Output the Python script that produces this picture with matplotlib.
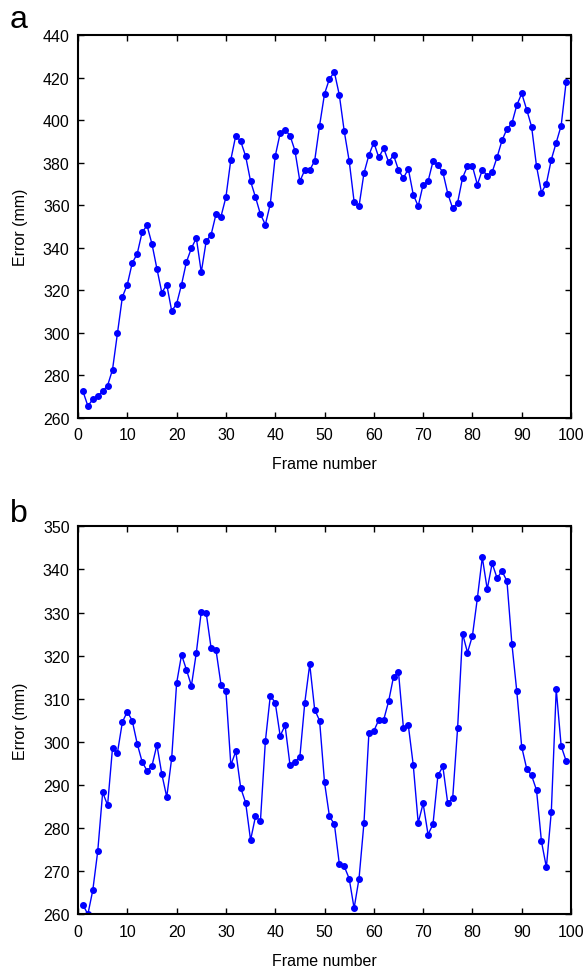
import numpy as np
import matplotlib.pyplot as plt

plt.rcParams['font.family'] = ['Liberation Sans', 'DejaVu Sans']

frames = np.arange(1, 100)

error_a = [272.4, 265.5, 268.6, 270.2, 272.4, 275.1, 282.6, 299.7, 316.8, 322.6,
           332.8, 337.0, 347.2, 350.4, 341.7, 330.1, 318.8, 322.6, 310.2, 313.5,
           322.6, 333.3, 339.7, 344.5, 328.4, 343.0, 346.1, 355.8, 354.6, 363.7,
           381.4, 392.7, 390.0, 383.0, 371.2, 363.7, 355.7, 350.8, 360.5, 383.0,
           393.8, 395.4, 392.7, 385.6, 371.2, 376.5, 376.5, 380.8, 397.4, 412.3,
           419.4, 422.5, 411.8, 394.7, 380.8, 361.6, 359.5, 375.0, 383.5, 389.4,
           382.4, 386.7, 380.3, 383.5, 376.5, 372.7, 377.0, 364.9, 359.5, 369.6,
           371.2, 380.5, 378.7, 375.5, 365.4, 358.4, 361.2, 372.8, 378.3, 378.3,
           369.6, 376.5, 373.9, 375.5, 382.5, 390.4, 395.8, 398.4, 407.0, 412.5,
           404.9, 396.9, 378.3, 365.9, 370.1, 381.4, 389.4, 397.4, 417.8]

error_b = [262.2, 260.0, 265.6, 274.6, 288.3, 285.3, 298.6, 297.5, 304.6, 307.0,
           304.9, 299.6, 295.4, 293.3, 294.4, 299.3, 292.5, 287.2, 296.2, 313.6,
           320.2, 316.7, 313.0, 320.7, 330.2, 329.9, 321.7, 321.2, 313.3, 311.7,
           294.6, 297.8, 289.3, 285.9, 277.2, 282.7, 281.6, 300.1, 310.7, 309.1,
           301.4, 303.8, 294.6, 295.4, 296.5, 309.1, 318.0, 307.5, 304.9, 290.6,
           282.7, 280.9, 271.7, 271.1, 268.3, 261.4, 268.3, 281.2, 302.0, 302.5,
           305.1, 305.1, 309.4, 315.1, 316.2, 303.3, 303.8, 294.6, 281.2, 285.7,
           278.5, 280.9, 292.2, 294.3, 285.7, 287.0, 303.3, 325.1, 320.7, 324.6,
           333.3, 342.8, 335.4, 341.4, 338.0, 339.6, 337.3, 322.8, 311.7, 298.8,
           293.8, 292.2, 288.8, 276.9, 270.9, 283.8, 312.2, 299.0, 295.6]


def draw_panel(ax, y, ylim, step, letter, letter_y):
    ax.plot(frames, y, '-o', color='blue', linewidth=1, markersize=4)
    ax.set_xlim(0, 100)
    ax.set_ylim(ylim)
    ax.set_xticks(np.arange(0, 101, 10))
    ax.set_yticks(np.arange(ylim[0], ylim[1] + 1, step))
    ax.tick_params(axis='x', pad=7)
    ax.tick_params(axis='y', pad=6)
    ax.tick_params(direction='in', top=True, right=True, labelsize=11.5,
                   length=4, width=1)
    for s in ax.spines.values():
        s.set_linewidth(1.5)
    ax.set_xlabel('Frame number', fontsize=11.5, labelpad=10)
    ax.set_ylabel('Error (mm)', fontsize=11.5, labelpad=11)
    # panel letter
    fig.text(10 / 587, letter_y, letter, fontsize=23, ha='left', va='baseline')


fig = plt.figure(figsize=(5.87, 9.7), dpi=100)
ax1 = fig.add_axes([0.1329, 0.5684, 0.8399, 0.3945])
ax2 = fig.add_axes([0.1329, 0.0564, 0.8399, 0.4000])

draw_panel(ax1, error_a, (260, 440), 20, 'a', 1 - 28 / 970)
draw_panel(ax2, error_b, (260, 350), 10, 'b', 1 - 522 / 970)

fig.savefig('out.png', dpi=100)
